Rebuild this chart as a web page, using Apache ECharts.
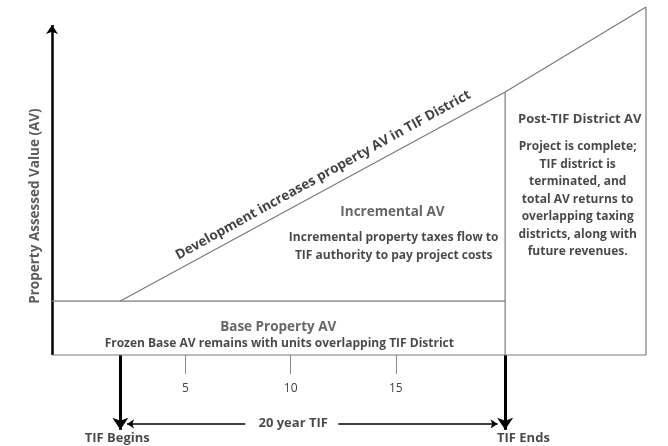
<!DOCTYPE html>
<html lang="en">
<head>
  <meta charset="UTF-8">
  <title>TIF diagram</title>
  <style>
    #container, html, body {
      margin: 0;
      padding: 0;
      height: 100%;
      width: 100%;
      background: #fff;
    }
  </style>
</head>
<body>
  <div id="container"></div>
</body>
<script src="https://cdn.jsdelivr.net/npm/echarts@6/dist/echarts.min.js"></script>
<script>
  // years along the bottom (schematic), AV in relative units (0-100)
  var yearTicks = [5, 10, 15]
  var xStart = -1.35, tifBegin = 1.9, tifEnd = 20.2, xEnd = 26.9
  var baseAV = 15.5, avAtTifEnd = 75.6, avFinal = 100, avAxisTop = 94.8

  // outline segments of the diagram
  var outlines = [
    [[xStart, 0], [xEnd, 0]],
    [[xStart, baseAV], [tifEnd, baseAV]],
    [[tifBegin, baseAV], [tifEnd, avAtTifEnd], [xEnd, avFinal]],
    [[tifEnd, avAtTifEnd], [tifEnd, 0]],
    [[xEnd, avFinal], [xEnd, 0]]
  ]

  // text labels: [x, y, text]
  var bigLabels = [
    [9.41, 8.05, 'Base Property AV'],
    [14.84, 41.1, 'Incremental AV']
  ]
  var smallLabels = [
    [9.46, 3.16, 'Frozen Base AV remains with units overlapping TIF District'],
    [14.9, 31.2, 'Incremental property taxes flow to\nTIF authority to pay project costs']
  ]
  var postTifText = [23.65, 44.8, 'Project is complete;\nTIF district is\nterminated, and\ntotal AV returns to\noverlapping taxing\ndistricts, along with\nfuture revenues.']
  var headLabels = [
    [23.75, 67.8, 'Post-TIF District AV'],
    [10.12, -19.6, '20 year TIF'],
    [1.75, -23.9, 'TIF Begins'],
    [21.07, -23.9, 'TIF Ends']
  ]
  var slopeLabel = [11.55, 51.7, 'Development increases property AV in TIF District']
  var axisLabelPos = [-2.16, 42.8, 'Property Assessed Value (AV)']

  var font = 'Open Sans'

  function textSeries (items, style) {
    return {
      type: 'scatter',
      symbolSize: 0,
      clip: false,
      silent: true,
      data: items.map(function (d) { return {value: [d[0], d[1]], name: d[2]} }),
      label: Object.assign({
        show: true,
        position: 'inside',
        align: 'center',
        verticalAlign: 'middle',
        fontFamily: font,
        formatter: function (p) { return p.name }
      }, style)
    }
  }

  var series = []
  outlines.forEach(function (seg) {
    series.push({
      type: 'line',
      data: seg,
      symbol: 'none',
      clip: false,
      silent: true,
      lineStyle: {color: '#7a7a7a', width: 1.2}
    })
  })

  series.push({
    type: 'lines',
    coordinateSystem: 'cartesian2d',
    clip: false,
    silent: true,
    symbol: ['none', 'arrow'],
    symbolSize: 12,
    lineStyle: {color: '#000', width: 3, opacity: 1},
    data: [
      {coords: [[xStart, 0], [xStart, avAxisTop]], lineStyle: {width: 2.5}, symbolSize: 9},
      {coords: [[tifBegin, 0], [tifBegin, -21.5]]},
      {coords: [[tifEnd, 0], [tifEnd, -21.5]]},
      {coords: [[7.84, -19.8], [2.22, -19.8]], lineStyle: {width: 1.5}, symbolSize: 7},
      {coords: [[12.27, -19.8], [19.84, -19.8]], lineStyle: {width: 1.5}, symbolSize: 7}
    ]
  })

  series.push(textSeries(bigLabels, {fontSize: 13.5, fontWeight: 'bold', color: '#404040'}))
  series.push(textSeries(smallLabels, {fontSize: 12, fontWeight: 'bold', color: '#1a1a1a', lineHeight: 18}))
  series.push(textSeries([postTifText], {fontSize: 12, fontWeight: 'bold', color: '#1a1a1a', lineHeight: 17.5}))
  series.push(textSeries(headLabels, {fontSize: 13, fontWeight: 'bold', color: '#1a1a1a'}))
  series.push(textSeries([slopeLabel], {fontSize: 13.5, fontWeight: 'bold', color: '#111', rotate: 29}))
  series.push(textSeries([axisLabelPos], {fontSize: 13.5, fontWeight: 'bold', color: '#333', rotate: 90}))

  var chart = echarts.init(document.getElementById('container'))
  chart.setOption({
    backgroundColor: '#fff',
    animation: false,
    grid: {left: 52, right: 22, top: 7, bottom: 91},
    xAxis: {
      type: 'value',
      min: xStart,
      max: xEnd,
      offset: 4,
      axisLine: {show: false},
      splitLine: {show: false},
      axisTick: {show: true, length: 19, customValues: yearTicks, lineStyle: {color: '#8a8a8a', width: 1}},
      axisLabel: {customValues: yearTicks, margin: 24, color: '#444', fontSize: 12, fontFamily: font}
    },
    yAxis: {
      type: 'value',
      min: 0,
      max: avFinal,
      show: false
    },
    series: series
  })
</script>
</html>
